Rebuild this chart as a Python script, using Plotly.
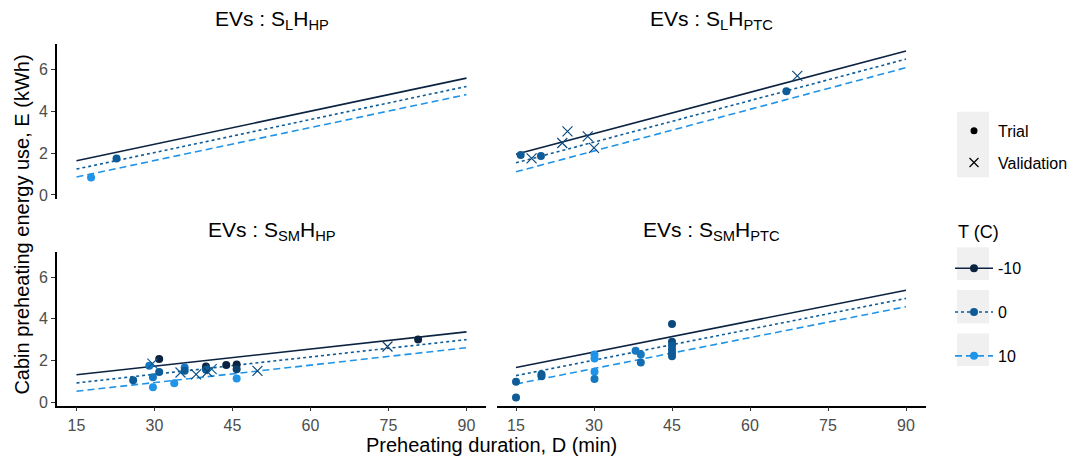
import plotly.graph_objects as go

# ---------------- data ----------------
temps = [-10, 0, 10]
temp_labels = ["-10", "0", "10"]
fit_D = [15, 90]

panel_titles = [
    "EVs : S<sub>L</sub>H<sub>HP</sub>",
    "EVs : S<sub>L</sub>H<sub>PTC</sub>",
    "EVs : S<sub>SM</sub>H<sub>HP</sub>",
    "EVs : S<sub>SM</sub>H<sub>PTC</sub>",
]

# fitted energy at D = 15 and D = 90 for T = -10, 0, 10
fit_SL_HP = [[1.64, 5.60], [1.24, 5.20], [0.86, 4.81]]
fit_SL_PTC = [[1.95, 6.90], [1.54, 6.51], [1.11, 6.10]]
fit_SSM_HP = [[1.31, 3.37], [0.92, 3.00], [0.52, 2.61]]
fit_SSM_PTC = [[1.66, 5.37], [1.27, 4.98], [0.87, 4.58]]

# trial points
trial_SL_HP_D = [22.7, 17.8]
trial_SL_HP_E = [1.75, 0.84]
trial_SL_HP_T = [0, 10]

trial_SL_PTC_D = [15.9, 19.8, 67.0]
trial_SL_PTC_E = [1.92, 1.87, 4.97]
trial_SL_PTC_T = [0, 0, 0]

trial_SSM_HP_D = [25.9, 29.0, 30.9, 29.7, 29.7, 30.9, 33.8, 35.8, 35.8, 39.9, 39.9, 43.8, 45.8, 45.8, 45.8, 80.7]
trial_SSM_HP_E = [1.05, 1.75, 2.07, 1.19, 0.71, 1.45, 0.90, 1.66, 1.50, 1.71, 1.55, 1.78, 1.80, 1.58, 1.13, 3.00]
trial_SSM_HP_T = [0, 5, -10, 5, 10, 0, 10, 5, 0, -10, 0, -10, -10, -5, 10, -10]

trial_SSM_PTC_D = [15, 15, 19.9, 19.9, 30.1, 30.1, 30.1, 30.1, 38.0, 39.0, 39.0, 45, 45, 45, 45, 45, 45]
trial_SSM_PTC_E = [0.98, 0.22, 1.34, 1.24, 2.29, 2.09, 1.46, 1.11, 2.46, 2.28, 1.90, 3.75, 2.90, 2.72, 2.52, 2.36, 2.20]
trial_SSM_PTC_T = [0, 0, 0, 0, 10, 10, 10, 5, 5, 5, 3, -3, -3, 0, 0, 0, 0]

# validation points
val_SL_PTC_D = [18.0, 23.9, 24.9, 28.8, 30.0, 69.1]
val_SL_PTC_E = [1.75, 2.49, 3.05, 2.81, 2.26, 5.71]
val_SL_PTC_T = [-3, -3, -3, -3, -3, -3]

val_SSM_HP_D = [29.6, 35.0, 38.0, 40.2, 41.0, 49.8, 74.8]
val_SSM_HP_E = [1.85, 1.42, 1.33, 1.45, 1.58, 1.50, 2.67]
val_SSM_HP_T = [0, 0, -3, -5, 0, -3, -5]

x_ticks = [15, 30, 45, 60, 75, 90]
y_ticks = [0, 2, 4, 6]

# ---------------- styling ----------------
FONT = "Liberation Sans, Arial, sans-serif"
DARK, MID, LIGHT = "#0b2341", "#0d5b97", "#1f94e8"
colorscale = [[0, DARK], [0.5, MID], [1, LIGHT]]
line_colors = [DARK, MID, LIGHT]
line_dash = ["solid", "3px,3px", "7px,4px"]

fits = [fit_SL_HP, fit_SL_PTC, fit_SSM_HP, fit_SSM_PTC]
trials = [
    (trial_SL_HP_D, trial_SL_HP_E, trial_SL_HP_T),
    (trial_SL_PTC_D, trial_SL_PTC_E, trial_SL_PTC_T),
    (trial_SSM_HP_D, trial_SSM_HP_E, trial_SSM_HP_T),
    (trial_SSM_PTC_D, trial_SSM_PTC_E, trial_SSM_PTC_T),
]
vals = [None, (val_SL_PTC_D, val_SL_PTC_E, val_SL_PTC_T),
        (val_SSM_HP_D, val_SSM_HP_E, val_SSM_HP_T), None]

W, H = 1077, 460
OFF = 8  # page body margin offset
def px_x(p):
    return (p - OFF) / W
def px_y(p):
    return 1 - (p - OFF) / H

x_dom = [[px_x(57), px_x(486)], [px_x(496.5), px_x(925.5)]]
y_dom_top = [px_y(200.6), px_y(44.7)]
y_dom_bot = [px_y(410), px_y(254.4)]

fig = go.Figure()

for i in range(4):
    ax = "" if i == 0 else str(i + 1)
    xa, ya = "x" + ax, "y" + ax
    for k in range(3):
        fig.add_trace(go.Scatter(
            x=fit_D, y=fits[i][k], mode="lines", xaxis=xa, yaxis=ya,
            line=dict(color=line_colors[k], width=1.6, dash=line_dash[k]),
            showlegend=False, hoverinfo="skip"))
    d, e, t = trials[i]
    fig.add_trace(go.Scatter(
        x=d, y=e, mode="markers", xaxis=xa, yaxis=ya, showlegend=False,
        marker=dict(symbol="circle", size=8, color=t, colorscale=colorscale,
                    cmin=-10, cmax=10, line=dict(width=0))))
    if vals[i] is not None:
        d, e, t = vals[i]
        fig.add_trace(go.Scatter(
            x=d, y=e, mode="markers", xaxis=xa, yaxis=ya, showlegend=False,
            marker=dict(symbol="x-thin-open", size=10, color=t, colorscale=colorscale,
                        cmin=-10, cmax=10, line=dict(width=1.2))))

# legend entries: shape
fig.add_trace(go.Scatter(x=[None], y=[None], mode="markers", name="Trial",
                         marker=dict(symbol="circle", size=7, color="black"),
                         legend="legend", legendgroup="a"))
fig.add_trace(go.Scatter(x=[None], y=[None], mode="markers", name="Validation",
                         marker=dict(symbol="x-thin-open", size=9, color="black",
                                     line=dict(width=1.2)),
                         legend="legend", legendgroup="b"))
# legend entries: temperature
for k in range(3):
    fig.add_trace(go.Scatter(x=[None], y=[None], mode="lines+markers",
                             name=temp_labels[k], legend="legend2",
                             legendgroup="t" + str(k),
                             line=dict(color=line_colors[k], width=1.6, dash=line_dash[k]),
                             marker=dict(color=line_colors[k], size=8)))

axis_common = dict(range=[11.25, 93.75], zeroline=False, showgrid=False)
yaxis_common = dict(range=[-0.17, 7.22], zeroline=False, showgrid=False)
tickfont = dict(family=FONT, size=16, color="#4d4d4d")
shown_axis = dict(showline=True, linecolor="black", linewidth=1.6, ticks="outside",
                  ticklen=4, tickcolor="#333333", tickwidth=1.2, tickfont=tickfont)
hidden_axis = dict(showline=False, showticklabels=False, ticks="")

layout = dict(
    width=W, height=H, margin=dict(l=0, r=0, t=0, b=0),
    paper_bgcolor="white", plot_bgcolor="white",
    font=dict(family=FONT, color="black"),
    xaxis=dict(domain=x_dom[0], anchor="y", **hidden_axis, **axis_common),
    xaxis2=dict(domain=x_dom[1], anchor="y2", **hidden_axis, **axis_common),
    xaxis3=dict(domain=x_dom[0], anchor="y3", tickvals=x_ticks, **shown_axis, **axis_common),
    xaxis4=dict(domain=x_dom[1], anchor="y4", tickvals=x_ticks, **shown_axis, **axis_common),
    yaxis=dict(domain=y_dom_top, anchor="x", tickvals=y_ticks, **shown_axis, **yaxis_common),
    yaxis2=dict(domain=y_dom_top, anchor="x2", **hidden_axis, **yaxis_common),
    yaxis3=dict(domain=y_dom_bot, anchor="x3", tickvals=y_ticks, **shown_axis, **yaxis_common),
    yaxis4=dict(domain=y_dom_bot, anchor="x4", **hidden_axis, **yaxis_common),
    legend=dict(x=px_x(950), y=px_y(115), xanchor="left", yanchor="top",
                bgcolor="rgba(0,0,0,0)", font=dict(family=FONT, size=16, color="black"),
                tracegroupgap=8, itemwidth=38),
    legend2=dict(x=px_x(950), y=px_y(254), xanchor="left", yanchor="top",
                 bgcolor="rgba(0,0,0,0)", font=dict(family=FONT, size=16, color="black"),
                 tracegroupgap=20, itemwidth=38),
)
fig.update_layout(**layout)

# panel titles
title_pos = [
    ((x_dom[0][0] + x_dom[0][1]) / 2, px_y(20)),
    ((x_dom[1][0] + x_dom[1][1]) / 2, px_y(20)),
    ((x_dom[0][0] + x_dom[0][1]) / 2, px_y(233)),
    ((x_dom[1][0] + x_dom[1][1]) / 2, px_y(233)),
]
for i in range(4):
    fig.add_annotation(text=panel_titles[i], x=title_pos[i][0], y=title_pos[i][1],
                       xref="paper", yref="paper", showarrow=False,
                       xanchor="center", yanchor="middle",
                       font=dict(family=FONT, size=21, color="black"))

fig.add_annotation(text="Preheating duration, D (min)", x=(x_dom[0][0] + x_dom[1][1]) / 2,
                   y=px_y(450), xref="paper", yref="paper", showarrow=False,
                   xanchor="center", yanchor="middle", borderpad=0,
                   font=dict(family=FONT, size=20, color="black"))
fig.add_annotation(text="Cabin preheating energy use, E (kWh)", x=px_x(22), y=px_y(227),
                   xref="paper", yref="paper", showarrow=False, textangle=-90,
                   xanchor="center", yanchor="middle",
                   font=dict(family=FONT, size=20, color="black"))
fig.add_annotation(text="T (C)", x=px_x(956), y=px_y(234),
                   xref="paper", yref="paper", showarrow=False,
                   xanchor="left", yanchor="middle",
                   font=dict(family=FONT, size=18, color="black"))

# grey legend key backgrounds
for (y0, y1) in [(113, 179), (250, 283), (293, 327), (337, 370)]:
    fig.add_shape(type="rect", xref="paper", yref="paper",
                  x0=px_x(957), x1=px_x(989), y0=px_y(y1), y1=px_y(y0),
                  fillcolor="#f0f0f0", line=dict(width=0), layer="below")

fig.write_html("out.html")
